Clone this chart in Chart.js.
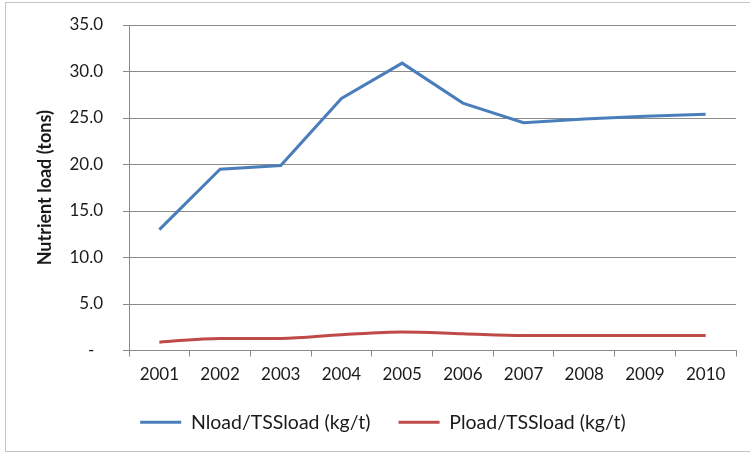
<!DOCTYPE html>
<html>
<head>
<meta charset="utf-8">
<script src="https://cdn.jsdelivr.net/npm/chart.js@4"></script>
<style>
  html, body { margin: 0; padding: 0; background: #fff; }
  #wrap { position: relative; width: 750px; height: 454px; overflow: hidden; }
  #frame { position: absolute; left: 5px; top: 2px; width: 800px; height: 450px; border: 1px solid #c4c4c4; box-sizing: border-box; }
  #c { position: absolute; left: 0; top: 0; }
</style>
</head>
<body>
<div id="wrap">
  <div id="frame"></div>
  <canvas id="c" width="750" height="454"></canvas>
</div>
<script>
const years = ['2001','2002','2003','2004','2005','2006','2007','2008','2009','2010'];
const nLoad = [13.0, 19.5, 19.9, 27.1, 30.9, 26.6, 24.5, 24.9, 25.2, 25.4];
const pLoad = [0.9, 1.3, 1.3, 1.7, 2.0, 1.8, 1.6, 1.6, 1.6, 1.6];
const seriesNames = ['Nload/TSSload (kg/t)', 'Pload/TSSload (kg/t)'];
const yTicks = [0, 5, 10, 15, 20, 25, 30, 35];
const yTitle = 'Nutrient load (tons)';

const FONT = 'Lato, "Open Sans", sans-serif';
const textColor = '#1a1a1a';
const gridColor = '#8a8a8a';

new Chart(document.getElementById('c'), {
  type: 'line',
  data: {
    labels: years,
    datasets: [
      { label: seriesNames[0], data: nLoad, borderColor: '#4a7ebb', backgroundColor: '#4a7ebb',
        borderWidth: 3, pointRadius: 0, tension: 0, fill: false },
      { label: seriesNames[1], data: pLoad, borderColor: '#be4b48', backgroundColor: '#be4b48',
        borderWidth: 3, pointRadius: 0, cubicInterpolationMode: 'monotone', fill: false }
    ]
  },
  options: {
    responsive: false,
    animation: false,
    devicePixelRatio: 1,
    layout: { padding: { left: 30, right: 14, top: 25, bottom: 12 } },
    plugins: {
      tooltip: { enabled: false },
      legend: {
        position: 'bottom',
        labels: {
          usePointStyle: true,
          pointStyle: 'line',
          pointStyleWidth: 41,
          padding: 28,
          color: textColor,
          font: { family: FONT, size: 19.5 }
        }
      }
    },
    scales: {
      x: {
        offset: true,
        grid: { offset: true, drawOnChartArea: false, drawTicks: true, tickLength: 6, color: gridColor },
        border: { display: true, color: gridColor, width: 1 },
        ticks: { color: textColor, font: { family: FONT, size: 17 }, padding: 8, maxRotation: 0, autoSkip: false },
        afterFit: (s) => { s.height = 34; }
      },
      y: {
        min: 0, max: 35,
        afterBuildTicks: (s) => { s.ticks = yTicks.map(v => ({ value: v })); },
        grid: { color: gridColor, tickLength: 6, drawTicks: true },
        border: { display: true, color: gridColor, width: 1 },
        ticks: {
          color: textColor, font: { family: FONT, size: 17 }, padding: 20,
          callback: (v) => v === 0 ? '-  ' : Number(v).toFixed(1)
        },
        title: { display: true, text: yTitle, color: textColor,
                 font: { family: FONT, size: 18, weight: 'bold' }, padding: { top: 4, bottom: 0 } },
        afterFit: (s) => { s.width = 99; s.paddingTop = 5; s.paddingBottom = 5; }
      }
    }
  }
});
</script>
</body>
</html>
